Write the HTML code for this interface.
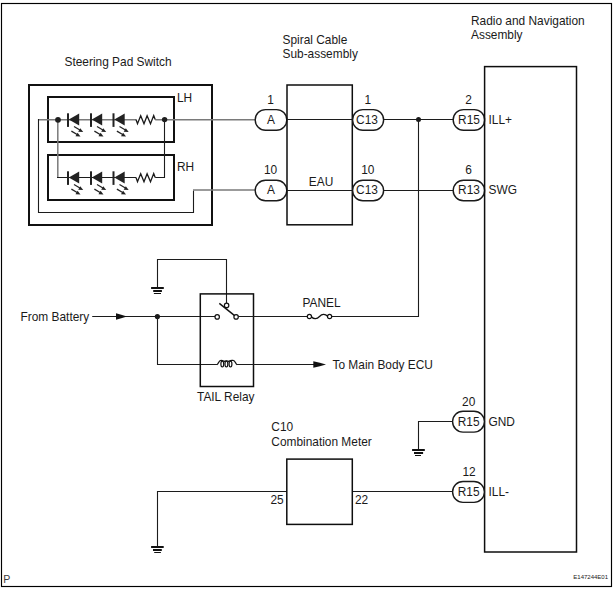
<!DOCTYPE html>
<html><head><meta charset="utf-8">
<style>
html,body{margin:0;padding:0;background:#fff;}
svg{display:block;}
text{font-family:"Liberation Sans",sans-serif;font-size:11.9px;fill:#1a1a1a;}
.s{font-size:6px;}
.w{stroke:#1c1c1c;stroke-width:1.1;fill:none;}
.g{stroke:#7a7a7a;stroke-width:1.5;fill:none;}
.b{stroke:#111;stroke-width:2;fill:none;}
.bx{stroke:#0e0e0e;stroke-width:1.5;fill:none;}
.pill{stroke:#1a1a1a;stroke-width:1.4;fill:#fff;}
.gnd{stroke:#111;fill:none;}
.c{text-anchor:middle;}
</style></head><body>
<svg width="615" height="592" viewBox="0 0 615 592">
<rect x="0" y="0" width="615" height="592" fill="#fff"/>
<!-- outer border -->
<rect x="1.5" y="3.5" width="610" height="583" fill="none" stroke="#000" stroke-width="1.15"/>

<!-- titles -->
<text x="64.5" y="66">Steering Pad Switch</text>
<text x="282.5" y="44">Spiral Cable</text>
<text x="282.5" y="58.2">Sub-assembly</text>
<text x="471" y="24.8">Radio and Navigation</text>
<text x="471" y="38.8">Assembly</text>

<!-- Steering pad switch -->
<rect x="29" y="85" width="183" height="140" class="b"/>
<rect x="48" y="97" width="126" height="45" class="b"/>
<rect x="48" y="155" width="126" height="45" class="b"/>
<text x="177" y="102">LH</text>
<text x="177" y="171">RH</text>

<!-- wires in switch -->
<path class="g" d="M136 119.75 H38.5 M155.2 119.75 H255"/>
<path class="w" d="M38.5 119 V212.5 H193.5 V190.5"/>
<path class="g" d="M193 190.1 H255"/>
<path class="g" d="M57.8 119.5 V177"/>
<path class="w" d="M57 177.5 H136 M155.2 177.5 H164.5 V119.5"/>

<circle cx="58" cy="119.8" r="2.9" fill="#1e1e1e"/>
<circle cx="164.6" cy="119.6" r="2.7" fill="#1e1e1e"/>
<g transform="translate(0,119.5)"><g>
    <rect x="67" y="-6.2" width="2" height="13.6" fill="#222"/>
    <path d="M68.8 0 L79.2 -5.9 L79.2 6.1 Z" fill="#222"/>
    <path d="M74 7 L80.3 10.7" stroke="#222" stroke-width="1.25"/>
    <path d="M83.2 12.6 L78.2 12.3 L80.3 8.8 Z" fill="#222"/>
    <path d="M71.4 11.6 L77.6 15.2" stroke="#222" stroke-width="1.25"/>
    <path d="M80.5 17 L75.5 16.7 L77.6 13.2 Z" fill="#222"/>
  </g><g transform="translate(23,0)">
    <rect x="67" y="-6.2" width="2" height="13.6" fill="#222"/>
    <path d="M68.8 0 L79.2 -5.9 L79.2 6.1 Z" fill="#222"/>
    <path d="M74 7 L80.3 10.7" stroke="#222" stroke-width="1.25"/>
    <path d="M83.2 12.6 L78.2 12.3 L80.3 8.8 Z" fill="#222"/>
    <path d="M71.4 11.6 L77.6 15.2" stroke="#222" stroke-width="1.25"/>
    <path d="M80.5 17 L75.5 16.7 L77.6 13.2 Z" fill="#222"/>
  </g><g transform="translate(45.5,0)">
    <rect x="67" y="-6.2" width="2" height="13.6" fill="#222"/>
    <path d="M68.8 0 L79.2 -5.9 L79.2 6.1 Z" fill="#222"/>
    <path d="M74 7 L80.3 10.7" stroke="#222" stroke-width="1.25"/>
    <path d="M83.2 12.6 L78.2 12.3 L80.3 8.8 Z" fill="#222"/>
    <path d="M71.4 11.6 L77.6 15.2" stroke="#222" stroke-width="1.25"/>
    <path d="M80.5 17 L75.5 16.7 L77.6 13.2 Z" fill="#222"/>
  </g><path d="M136 0 L137.5 4.2 L140.7 -3.7 L144 4.2 L147.1 -3.7 L150.5 4.2 L153.7 -3.9 L155.2 0" stroke="#1a1a1a" stroke-width="1.3" fill="none"/></g>
<g transform="translate(0,177.5)"><g>
    <rect x="67" y="-6.2" width="2" height="13.6" fill="#222"/>
    <path d="M68.8 0 L79.2 -5.9 L79.2 6.1 Z" fill="#222"/>
    <path d="M74 7 L80.3 10.7" stroke="#222" stroke-width="1.25"/>
    <path d="M83.2 12.6 L78.2 12.3 L80.3 8.8 Z" fill="#222"/>
    <path d="M71.4 11.6 L77.6 15.2" stroke="#222" stroke-width="1.25"/>
    <path d="M80.5 17 L75.5 16.7 L77.6 13.2 Z" fill="#222"/>
  </g><g transform="translate(23,0)">
    <rect x="67" y="-6.2" width="2" height="13.6" fill="#222"/>
    <path d="M68.8 0 L79.2 -5.9 L79.2 6.1 Z" fill="#222"/>
    <path d="M74 7 L80.3 10.7" stroke="#222" stroke-width="1.25"/>
    <path d="M83.2 12.6 L78.2 12.3 L80.3 8.8 Z" fill="#222"/>
    <path d="M71.4 11.6 L77.6 15.2" stroke="#222" stroke-width="1.25"/>
    <path d="M80.5 17 L75.5 16.7 L77.6 13.2 Z" fill="#222"/>
  </g><g transform="translate(45.5,0)">
    <rect x="67" y="-6.2" width="2" height="13.6" fill="#222"/>
    <path d="M68.8 0 L79.2 -5.9 L79.2 6.1 Z" fill="#222"/>
    <path d="M74 7 L80.3 10.7" stroke="#222" stroke-width="1.25"/>
    <path d="M83.2 12.6 L78.2 12.3 L80.3 8.8 Z" fill="#222"/>
    <path d="M71.4 11.6 L77.6 15.2" stroke="#222" stroke-width="1.25"/>
    <path d="M80.5 17 L75.5 16.7 L77.6 13.2 Z" fill="#222"/>
  </g><path d="M136 0 L137.5 4.2 L140.7 -3.7 L144 4.2 L147.1 -3.7 L150.5 4.2 L153.7 -3.9 L155.2 0" stroke="#1a1a1a" stroke-width="1.3" fill="none"/></g>

<!-- connectors A -->
<text class="c" x="270.5" y="104.2">1</text>
<rect class="pill" x="255.2" y="109.6" width="31.6" height="20.6" rx="10.3"/>
<text class="c" x="271" y="124">A</text>
<text class="c" x="270.5" y="174.2">10</text>
<rect class="pill" x="255.2" y="180.2" width="31.6" height="20.6" rx="10.3"/>
<text class="c" x="271" y="194">A</text>

<!-- spiral cable -->
<rect x="287" y="85" width="65.3" height="139.8" class="bx"/>
<path class="w" d="M287 119.5 H352.3 M287 190.5 H352.3"/>
<text class="c" x="321" y="186.2">EAU</text>
<text class="c" x="367.8" y="104.2">1</text>
<rect class="pill" x="352.6" y="109.6" width="31" height="20.6" rx="10.3"/>
<text class="c" x="367" y="124">C13</text>
<text class="c" x="367.8" y="174.2">10</text>
<rect class="pill" x="352.6" y="180.2" width="31" height="20.6" rx="10.3"/>
<text class="c" x="367" y="194">C13</text>

<!-- to radio -->
<path class="w" d="M383.6 119.5 H453 M383.6 190.5 H453"/>
<circle cx="418.5" cy="119.5" r="2.5" fill="#1a1a1a"/>
<text class="c" x="468.5" y="104.2">2</text>
<rect class="pill" x="453.2" y="109.6" width="31.4" height="20.6" rx="10.3"/>
<text class="c" x="469" y="124">R15</text>
<text class="c" x="468.5" y="174.2">6</text>
<rect class="pill" x="453.2" y="180.2" width="31.4" height="20.6" rx="10.3"/>
<text class="c" x="469" y="194">R13</text>

<!-- radio box -->
<rect x="484.6" y="66.6" width="91.9" height="485.4" class="bx"/>
<text x="488.5" y="124">ILL+</text>
<text x="488.5" y="194">SWG</text>
<text x="488.5" y="426">GND</text>
<text x="488.5" y="496">ILL-</text>

<!-- relay area -->
<path class="w" d="M157.5 287 V259.5 H226.5 V303.3"/>
<path class="gnd" d="M151.1 288 H163.8 M153.2 291 H161.9" stroke-width="2"/>
<path class="gnd" d="M153.9 293.5 H161" stroke-width="1"/>
<text x="20.5" y="320.8">From Battery</text>
<path class="w" d="M92.2 316.5 H215.1"/>
<path d="M127 316.5 Q121 314.6 116 313.2 L116 319.8 Q121 318.4 127 316.5 Z" fill="#111"/>
<circle cx="157.4" cy="316.6" r="2.6" fill="#1a1a1a"/>
<path class="w" d="M157.5 316.5 V364.5 H217"/>
<rect x="200.3" y="293.9" width="53.2" height="92.6" class="bx"/>
<circle cx="217.2" cy="316.9" r="2.2" fill="#fff" stroke="#111" stroke-width="1.2"/>
<circle cx="236.1" cy="316.9" r="2.2" fill="#fff" stroke="#111" stroke-width="1.2"/>
<circle cx="226.6" cy="305.4" r="2.2" fill="#fff" stroke="#111" stroke-width="1.2"/>
<path d="M219.3 303.4 L234.6 315.6" stroke="#111" stroke-width="1.4"/>
<path class="w" d="M238.3 316.5 H307.3 M331.7 316.5 H418.5 V119.5"/>
<circle cx="309.4" cy="316.5" r="2.1" fill="#fff" stroke="#111" stroke-width="1.2"/>
<circle cx="329.6" cy="316.5" r="2.1" fill="#fff" stroke="#111" stroke-width="1.2"/>
<path d="M311.4 316.7 C314 319.6 317 319.1 319.5 316.5 C322 313.9 325 313.6 327.6 316.3" stroke="#111" stroke-width="1.3" fill="none"/>
<text x="302.5" y="306.8">PANEL</text>
<!-- coil -->
<path d="M217 364.5 C218.5 364.5 218.5 360.4 221 360.4 C222.5 360.4 223.5 361 224.3 361.4 C225.2 360.8 227.6 360.8 228.5 361.4 C229.3 361 230.3 360.4 232 360.4 L233 360.4 C235.5 360.4 235.5 364.5 237 364.5" stroke="#111" stroke-width="1.3" fill="none"/>
<ellipse cx="222.3" cy="364.1" rx="1.4" ry="2.9" fill="none" stroke="#111" stroke-width="1.2"/>
<ellipse cx="226.4" cy="364.1" rx="1.4" ry="2.9" fill="none" stroke="#111" stroke-width="1.2"/>
<ellipse cx="230.5" cy="364.1" rx="1.4" ry="2.9" fill="none" stroke="#111" stroke-width="1.2"/>
<path class="w" d="M237 364.5 H318"/>
<path d="M326 364.5 Q320 362.6 313.3 361.2 L313.3 367.8 Q320 366.4 326 364.5 Z" fill="#111"/>
<text x="332.5" y="369.1">To Main Body ECU</text>
<text x="197" y="400.8">TAIL Relay</text>

<!-- GND -->
<text class="c" x="468.7" y="406">20</text>
<rect class="pill" x="452.6" y="411.2" width="31.8" height="20.9" rx="10.4"/>
<text class="c" x="468.7" y="426">R15</text>
<path class="w" d="M452.6 421.5 H418.5 V449"/>
<path class="gnd" d="M412.1 450 H424.8 M414 453 H423.1" stroke-width="2"/>
<path class="gnd" d="M415 455.5 H421" stroke-width="1"/>

<!-- ILL- -->
<text class="c" x="469" y="476.2">12</text>
<rect class="pill" x="452.6" y="481.5" width="31.8" height="20.9" rx="10.4"/>
<text class="c" x="468.7" y="496">R15</text>
<path class="w" d="M352.4 491.5 H452.6 M286.8 491.5 H157.5 V546"/>
<path class="gnd" d="M151.1 547 H163.7 M153 550 H161.8" stroke-width="2"/>
<path class="gnd" d="M154.2 552.5 H160.9" stroke-width="1"/>
<rect x="286.8" y="459.1" width="65.5" height="65.3" class="bx"/>
<text x="271.3" y="430.6">C10</text>
<text x="271.3" y="445.8">Combination Meter</text>
<text x="270.4" y="504">25</text>
<text x="355" y="504">22</text>

<text x="3.2" y="582.7" style="font-size:10.6px;fill:#3c3c3c">P</text>
<text class="s" x="573.3" y="579">E147244E01</text>
</svg>
</body></html>
